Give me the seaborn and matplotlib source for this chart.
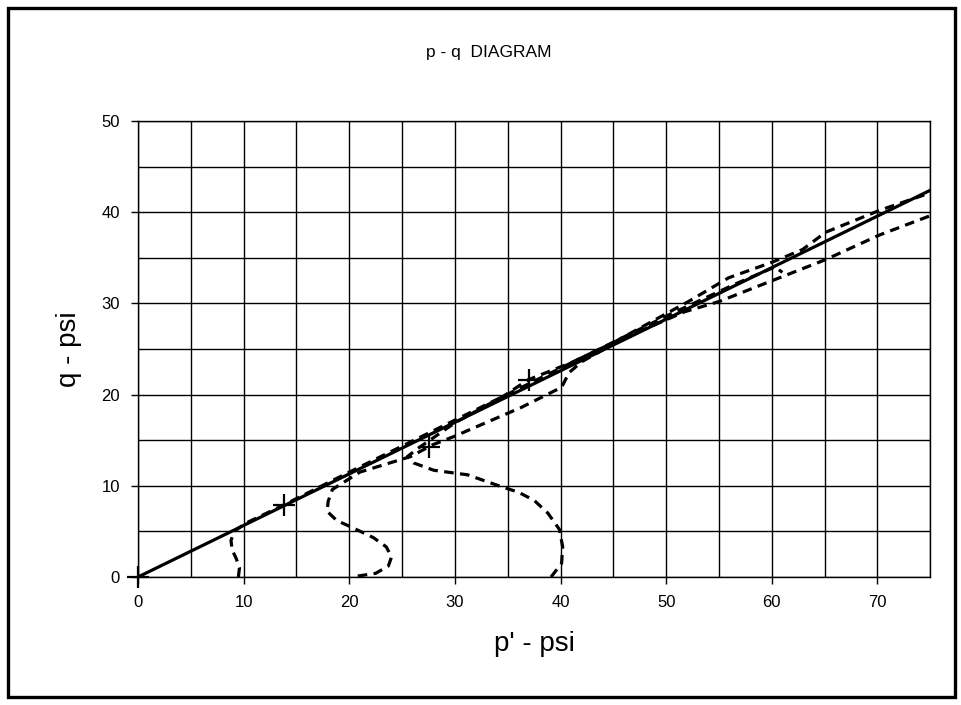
import matplotlib
matplotlib.use('Agg')
import matplotlib.pyplot as plt
import pandas as pd
import seaborn as sns
from matplotlib.patches import Rectangle

sns.set_style('white')
plt.rcParams['font.family'] = ['Liberation Sans', 'DejaVu Sans']
plt.rcParams['text.color'] = 'black'
plt.rcParams['axes.labelcolor'] = 'black'
plt.rcParams['xtick.color'] = 'black'
plt.rcParams['ytick.color'] = 'black'

# failure envelope (solid)
env_p = [0, 75]
env_q = [0, 42.4]

# stress path 1 (starts near p' = 9.5)
path1_p = [9.5, 9.6, 9.3, 8.9, 8.8, 9.1, 10.2, 12.0, 13.8, 20.0, 30.0, 40.0, 50.0, 56.5, 60.3, 61.0]
path1_q = [0.0, 1.0, 2.0, 3.0, 4.0, 5.0, 5.9, 6.9, 7.9, 11.5, 17.2, 22.9, 28.6, 32.1, 34.0, 33.4]

# stress path 2 (starts near p' = 21)
path2_p = [20.8, 22.5, 23.7, 24.0, 23.5, 22.3, 20.5, 18.8, 17.9, 18.0, 18.4, 21.0, 25.8, 27.9,
           29.9, 36.3, 40.1, 40.8, 42.0, 46.0, 51.8, 55.0, 65.1, 70.2, 75.2]
path2_q = [0.1, 0.4, 1.2, 2.2, 3.3, 4.3, 5.3, 6.2, 7.2, 8.3, 9.6, 11.5, 13.2, 14.5,
           15.4, 18.6, 20.8, 22.4, 23.6, 26.2, 29.1, 30.2, 34.8, 37.5, 39.7]

# stress path 3 (starts near p' = 39)
path3_p = [39.1, 40.1, 40.2, 39.9, 38.8, 37.5, 36.0, 34.4, 31.2, 28.0, 26.1, 25.5, 26.5, 30.0,
           34.7, 36.9, 41.0, 45.0, 48.0, 52.1, 55.9, 60.0, 62.9, 65.1, 70.2, 75.2]
path3_q = [0.0, 1.5, 3.3, 5.2, 7.0, 8.4, 9.3, 9.9, 11.2, 11.7, 12.5, 13.2, 14.1, 16.9,
           19.9, 21.6, 23.5, 25.7, 27.6, 30.2, 32.8, 34.5, 35.9, 37.8, 40.2, 42.2]

# failure points (+)
fail_p = [0, 13.8, 27.5, 37.0]
fail_q = [0, 7.9, 14.3, 21.6]

fig = plt.figure(figsize=(9.62, 7.05), dpi=100)
ax = fig.add_axes([0.1435, 0.1816, 0.967 - 0.1435, 0.8284 - 0.1816])

dash = (3.0, 2.0)
for pp, qq in [(path1_p, path1_q), (path2_p, path2_q), (path3_p, path3_q)]:
    df = pd.DataFrame({'p': pp, 'q': qq})
    sns.lineplot(data=df, x='p', y='q', sort=False, estimator=None, ax=ax,
                 color='black', lw=2.3, dashes=False, linestyle=(0, dash))

sns.lineplot(x=env_p, y=env_q, ax=ax, color='black', lw=2.3, estimator=None)
sns.scatterplot(x=fail_p, y=fail_q, ax=ax, marker='+', s=260, color='black',
                linewidth=1.6, zorder=5, clip_on=False)

ax.set_xlim(0, 75)
ax.set_ylim(0, 50)
ax.set_xticks(range(0, 71, 10))
ax.set_yticks(range(0, 51, 10))
ax.set_xticks(range(5, 76, 10), minor=True)
ax.set_yticks(range(5, 51, 10), minor=True)
ax.grid(True, which='both', color='black', lw=1.0)
ax.set_axisbelow(True)
ax.tick_params(axis='both', which='major', direction='out', length=5, width=1,
               labelsize=12, pad=8, bottom=True, left=True)
ax.tick_params(axis='both', which='minor', length=0)
for s in ax.spines.values():
    s.set_color('black')
    s.set_linewidth(1.0)

ax.set_xlabel("p' - psi", fontsize=20, labelpad=15)
ax.set_ylabel('q - psi', fontsize=20, labelpad=14)
fig.text(0.508, 0.926, 'p - q  DIAGRAM', ha='center', va='center', fontsize=12.5)

fig.add_artist(Rectangle((8 / 962, 8 / 705), 947 / 962, 689 / 705, transform=fig.transFigure,
                         fill=False, edgecolor='black', lw=2.4))

fig.savefig('out.png', dpi=100)
